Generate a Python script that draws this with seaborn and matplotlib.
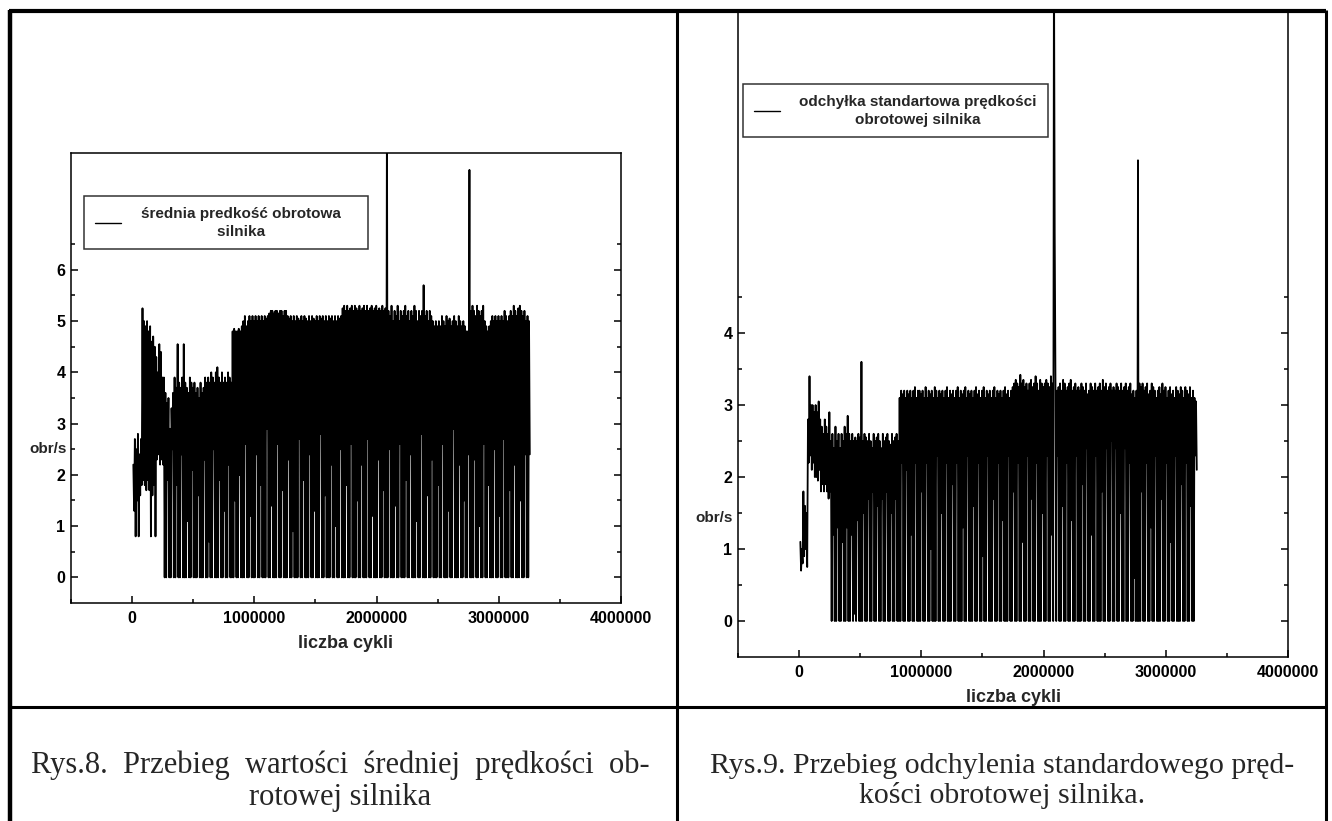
import matplotlib
matplotlib.use('Agg')
import matplotlib.pyplot as plt
import seaborn as sns
import numpy as np
import pandas as pd
from matplotlib.ticker import MultipleLocator

# -------------------------------
# DATA
# one reading every 6250 cycles, starting at 10000
# -------------------------------
first_cycle = 10000
cycle_step = 6250

mean_speed = [
    2.2, 1.3, 2.7, 0.8, 2.5, 1.5, 2.8, 0.8, 2.4, 1.6, 2.7, 1.8, 5.25, 1.9, 5.0, 1.8, 4.9, 1.7, 5.0, 1.9,
    4.8, 1.7, 4.9, 0.8, 4.6, 1.6, 4.7, 1.8, 4.5, 0.8, 4.3, 2.3, 4.0, 2.4, 4.55, 2.2, 4.4, 2.3, 3.9, 2.2,
    3.9, 0.0, 3.6, 0.0, 3.4, 1.9, 3.5, 0.0, 2.9, 0.0, 3.3, 2.5, 3.6, 0.0, 3.9, 0.0, 3.7, 1.8, 4.55, 0.0,
    3.8, 0.0, 3.7, 2.4, 3.9, 0.0, 4.55, 0.0, 3.8, 0.0, 3.7, 1.1, 3.6, 0.0, 3.9, 0.0, 3.8, 2.1, 3.7, 0.0,
    3.8, 0.0, 3.6, 0.0, 3.7, 1.6, 3.5, 0.0, 3.8, 0.0, 3.6, 0.0, 3.7, 2.3, 3.9, 0.0, 3.8, 0.0, 3.9, 0.7,
    3.8, 0.0, 4.0, 0.0, 3.9, 2.5, 3.8, 0.0, 4.0, 0.0, 4.1, 0.0, 3.9, 1.9, 3.8, 0.0, 4.0, 0.0, 3.8, 1.3,
    3.9, 0.0, 3.8, 0.0, 4.0, 2.2, 3.9, 0.0, 3.8, 0.0, 4.8, 0.0, 4.85, 1.5, 4.8, 0.0, 4.8, 0.0, 4.85, 2.0,
    4.8, 0.0, 4.9, 0.0, 5.0, 0.0, 5.1, 2.6, 4.9, 0.0, 5.0, 0.0, 5.1, 1.2, 5.0, 0.0, 5.1, 0.0, 5.0, 0.0,
    5.1, 2.4, 5.0, 0.0, 5.1, 0.0, 5.0, 1.8, 5.1, 0.0, 5.0, 0.0, 5.1, 0.0, 5.05, 2.9, 5.1, 0.0, 5.15, 0.0,
    5.2, 1.4, 5.2, 0.0, 5.15, 0.0, 5.2, 0.0, 5.2, 2.6, 5.15, 0.0, 5.2, 0.0, 5.2, 1.7, 5.1, 0.0, 5.2, 0.0,
    5.2, 0.0, 5.1, 2.3, 5.05, 0.0, 5.1, 0.0, 5.0, 0.9, 5.1, 0.0, 5.0, 0.0, 5.1, 0.0, 5.05, 2.7, 5.0, 0.0,
    5.1, 0.0, 5.0, 1.9, 5.1, 0.0, 5.05, 0.0, 5.0, 0.0, 5.1, 2.4, 5.0, 0.0, 5.1, 0.0, 5.05, 1.3, 5.0, 0.0,
    5.1, 0.0, 5.0, 0.0, 5.1, 2.8, 5.05, 0.0, 5.1, 0.0, 5.0, 1.6, 5.1, 0.0, 5.0, 0.0, 5.1, 0.0, 5.05, 2.2,
    5.1, 0.0, 5.0, 0.0, 5.1, 1.0, 5.0, 0.0, 5.1, 0.0, 5.05, 2.5, 5.1, 0.0, 5.25, 0.0, 5.3, 0.0, 5.2, 1.8,
    5.3, 0.0, 5.2, 0.0, 5.25, 2.6, 5.3, 0.0, 5.2, 0.0, 5.3, 0.0, 5.25, 1.5, 5.2, 0.0, 5.3, 0.0, 5.2, 2.2,
    5.25, 0.0, 5.3, 0.0, 5.2, 0.0, 5.3, 2.7, 5.2, 0.0, 5.25, 0.0, 5.3, 1.2, 5.2, 0.0, 5.25, 0.0, 5.3, 0.0,
    5.2, 2.3, 5.25, 0.0, 5.2, 0.0, 5.3, 1.7, 5.2, 0.0, 5.25, 0.0, 9.5, 0.0, 5.2, 2.5, 5.1, 0.0, 5.3, 0.0,
    5.0, 0.0, 5.2, 1.4, 5.1, 0.0, 5.3, 0.0, 5.0, 2.6, 5.2, 0.0, 5.1, 0.0, 5.2, 0.0, 5.3, 1.9, 5.1, 0.0,
    5.2, 0.0, 5.0, 2.4, 5.2, 0.0, 5.1, 0.0, 5.3, 0.0, 5.2, 1.1, 5.0, 0.0, 5.2, 0.0, 5.1, 2.8, 5.2, 0.0,
    5.7, 0.0, 5.1, 0.0, 5.2, 1.6, 5.0, 0.0, 5.2, 0.0, 5.1, 2.3, 5.0, 0.0, 4.9, 0.0, 5.0, 0.0, 4.9, 1.8,
    5.0, 0.0, 4.9, 0.0, 5.1, 2.6, 5.0, 0.0, 4.9, 0.0, 5.1, 0.0, 5.0, 1.3, 5.05, 0.0, 4.9, 0.0, 5.0, 2.9,
    5.1, 0.0, 5.0, 0.0, 4.9, 0.0, 5.1, 2.2, 5.0, 0.0, 4.9, 0.0, 5.0, 1.5, 4.9, 0.0, 4.8, 0.0, 4.8, 2.4,
    7.95, 0.0, 5.2, 0.0, 5.3, 0.0, 5.2, 2.3, 5.1, 0.0, 5.3, 0.0, 5.2, 1.0, 5.1, 0.0, 5.2, 0.0, 5.3, 2.6,
    5.0, 0.0, 4.9, 0.0, 4.8, 1.8, 4.9, 0.0, 5.0, 0.0, 5.1, 0.0, 5.0, 2.5, 5.1, 0.0, 5.0, 0.0, 5.1, 1.2,
    5.0, 0.0, 5.1, 0.0, 5.0, 2.7, 5.2, 0.0, 5.1, 0.0, 5.0, 0.0, 5.1, 1.7, 5.2, 0.0, 5.1, 0.0, 5.3, 2.2,
    5.2, 0.0, 5.1, 0.0, 5.25, 0.0, 5.3, 1.5, 5.2, 0.0, 5.1, 0.0, 5.2, 2.4, 5.0, 0.0, 5.1, 0.0, 5.0, 2.4,
]

std_speed = [
    1.1, 0.7, 1.0, 0.8, 1.8, 0.9, 1.6, 1.0, 1.5, 0.75, 2.8, 2.2, 3.4, 2.3, 3.0, 2.1, 3.0, 2.2, 2.9, 2.0,
    3.0, 2.0, 2.9, 1.95, 3.05, 2.1, 2.8, 1.8, 2.7, 1.9, 2.6, 1.8, 2.8, 1.9, 2.7, 1.8, 2.6, 1.7, 2.9, 1.8,
    2.5, 0.0, 2.6, 1.2, 2.4, 0.0, 2.7, 0.0, 2.5, 1.3, 2.6, 0.0, 2.4, 0.0, 2.6, 1.1, 2.5, 0.0, 2.7, 0.0,
    2.6, 1.3, 2.85, 0.0, 2.6, 0.0, 2.5, 1.2, 2.6, 0.0, 2.5, 0.1, 2.55, 0.0, 2.5, 1.4, 2.6, 0.0, 2.55, 0.0,
    3.6, 0.0, 2.5, 1.5, 2.6, 0.0, 2.55, 0.0, 2.5, 1.7, 2.6, 0.0, 2.5, 0.0, 2.4, 1.8, 2.6, 0.0, 2.5, 0.0,
    2.55, 1.6, 2.6, 0.0, 2.5, 0.0, 2.4, 1.7, 2.6, 0.0, 2.5, 0.0, 2.55, 1.8, 2.6, 0.0, 2.5, 0.0, 2.45, 1.5,
    2.6, 0.0, 2.5, 0.0, 2.55, 1.7, 2.6, 0.0, 2.5, 0.0, 3.1, 0.0, 3.2, 2.2, 3.15, 0.0, 3.2, 0.0, 3.1, 2.1,
    3.2, 0.0, 3.15, 0.0, 3.2, 1.2, 3.1, 0.0, 3.2, 0.0, 3.25, 2.2, 3.1, 0.0, 3.2, 0.0, 3.2, 0.0, 3.15, 1.8,
    3.2, 0.0, 3.1, 0.0, 3.25, 2.2, 3.1, 0.0, 3.2, 0.0, 3.15, 1.0, 3.2, 0.0, 3.1, 0.0, 3.25, 0.0, 3.2, 2.3,
    3.1, 0.0, 3.2, 0.0, 3.15, 1.5, 3.2, 0.0, 3.1, 0.0, 3.2, 2.2, 3.25, 0.0, 3.1, 0.0, 3.2, 0.0, 3.15, 1.9,
    3.2, 0.0, 3.1, 0.0, 3.2, 2.2, 3.25, 0.0, 3.1, 0.0, 3.2, 0.0, 3.15, 1.3, 3.2, 0.0, 3.25, 0.0, 3.1, 2.3,
    3.2, 0.0, 3.15, 0.0, 3.2, 0.0, 3.1, 1.6, 3.2, 0.0, 3.25, 0.0, 3.15, 2.2, 3.2, 0.0, 3.1, 0.0, 3.2, 0.9,
    3.25, 0.0, 3.1, 0.0, 3.2, 2.3, 3.15, 0.0, 3.2, 0.0, 3.1, 0.0, 3.2, 1.7, 3.25, 0.0, 3.1, 0.0, 3.2, 2.2,
    3.15, 0.0, 3.2, 0.0, 3.1, 1.4, 3.2, 0.0, 3.25, 0.0, 3.15, 0.0, 3.2, 2.3, 3.1, 0.0, 3.2, 0.0, 3.25, 1.8,
    3.3, 0.0, 3.35, 0.0, 3.3, 2.2, 3.25, 0.0, 3.42, 0.0, 3.3, 1.1, 3.35, 0.0, 3.25, 0.0, 3.3, 2.3, 3.2, 0.0,
    3.3, 0.0, 3.35, 1.7, 3.25, 0.0, 3.3, 0.0, 3.4, 2.2, 3.3, 0.0, 3.2, 0.0, 3.35, 0.0, 3.3, 1.5, 3.25, 0.0,
    3.3, 0.0, 3.35, 2.3, 3.3, 0.0, 3.25, 0.0, 3.4, 1.2, 3.3, 0.0, 9.5, 5.4, 3.3, 0.0, 3.2, 2.3, 3.25, 0.0,
    3.3, 0.0, 3.2, 1.6, 3.35, 0.0, 3.3, 0.0, 3.2, 2.2, 3.25, 0.0, 3.3, 0.0, 3.35, 1.4, 3.2, 0.0, 3.25, 0.0,
    3.3, 2.3, 3.2, 0.0, 3.25, 0.0, 3.2, 0.0, 3.3, 1.9, 3.25, 0.0, 3.2, 0.0, 3.3, 2.4, 3.15, 0.0, 3.2, 0.0,
    3.3, 1.2, 3.25, 0.0, 3.2, 0.0, 3.3, 2.3, 3.2, 0.0, 3.25, 0.0, 3.3, 0.0, 3.2, 1.8, 3.35, 0.0, 3.25, 0.0,
    3.3, 2.4, 3.2, 0.0, 3.25, 0.0, 3.3, 2.5, 3.2, 0.0, 3.25, 0.0, 3.2, 2.4, 3.3, 0.0, 3.25, 0.0, 3.2, 1.5,
    3.3, 0.0, 3.2, 0.0, 3.25, 2.4, 3.3, 0.0, 3.2, 0.0, 3.25, 2.2, 3.3, 0.0, 3.15, 0.0, 3.2, 0.6, 3.1, 0.0,
    3.2, 0.0, 6.4, 0.0, 3.3, 0.0, 3.25, 1.8, 3.3, 0.0, 3.2, 0.0, 3.25, 2.2, 3.3, 0.0, 3.15, 0.0, 3.2, 1.3,
    3.3, 0.0, 3.25, 0.0, 3.2, 2.3, 3.1, 0.0, 3.2, 0.0, 3.25, 0.0, 3.15, 1.7, 3.3, 0.0, 3.2, 0.0, 3.25, 2.2,
    3.1, 0.0, 3.2, 0.0, 3.25, 1.1, 3.15, 0.0, 3.2, 0.0, 3.1, 2.3, 3.25, 0.0, 3.2, 0.0, 3.15, 0.0, 3.25, 1.9,
    3.2, 0.0, 3.1, 0.0, 3.25, 2.2, 3.2, 0.0, 3.15, 0.0, 3.25, 1.6, 3.1, 0.0, 3.2, 0.0, 3.1, 2.3, 3.05, 2.1,
]

x_ticks = [0, 1000000, 2000000, 3000000, 4000000]
x_tick_labels = ['0', '1000000', '2000000', '3000000', '4000000']
mean_y_ticks = [0, 1, 2, 3, 4, 5, 6]
std_y_ticks = [0, 1, 2, 3, 4]

# trailing spaces only pad the legend box on the right, as in the scan
mean_label = 'średnia predkość obrotowa' + ' ' * 4 + '\nsilnika' + ' ' * 4
std_label = 'odchyłka standartowa prędkości\nobrotowej silnika'
caption_left = 'Rys.8.  Przebieg  wartości  średniej  prędkości  ob-\nrotowej silnika'
caption_right = 'Rys.9. Przebieg odchylenia standardowego pręd-\nkości obrotowej silnika.'

cycles = first_cycle + cycle_step * np.arange(len(mean_speed))
df = pd.DataFrame({'cycles': cycles, 'mean_speed': mean_speed, 'std_speed': std_speed})

# -------------------------------
# FIGURE
# -------------------------------
sns.set_style('ticks')
plt.rcParams['font.family'] = ['Liberation Sans Narrow', 'Liberation Sans', 'DejaVu Sans']
plt.rcParams['axes.linewidth'] = 1.1

W, H = 1332, 821
fig = plt.figure(figsize=(W / 100, H / 100), dpi=100)


def px_axes(left, top, right, bottom):
    return fig.add_axes([left / W, 1 - bottom / H, (right - left) / W, (bottom - top) / H])


ax1 = px_axes(71, 153, 621, 603)
ax2 = px_axes(738, 12, 1288, 657)

sns.lineplot(data=df, x='cycles', y='mean_speed', ax=ax1, color='black',
             linewidth=1.3, estimator=None, sort=False, label=mean_label)
sns.lineplot(data=df, x='cycles', y='std_speed', ax=ax2, color='black',
             linewidth=1.3, estimator=None, sort=False, label=std_label)


def style_axes(ax, yticks, ylim, ylab_pos, leg_pos):
    ax.set_xlim(-500000, 4000000)
    ax.set_ylim(*ylim)
    ax.set_xticks(x_ticks)
    ax.set_xticklabels(x_tick_labels)
    ax.xaxis.set_minor_locator(MultipleLocator(500000))
    ax.set_yticks(yticks)
    ax.set_yticks([t + 0.5 for t in yticks], minor=True)
    ax.tick_params(which='both', direction='in', top=False, right=True,
                   width=1.1, colors='black')
    ax.tick_params(which='major', length=5, labelsize=11.5)
    ax.tick_params(which='minor', length=3)
    ax.tick_params(axis='x', pad=6)
    ax.tick_params(axis='y', pad=4)
    for t in ax.get_xticklabels() + ax.get_yticklabels():
        t.set_fontweight('bold')
    for s in ax.spines.values():
        s.set_color('black')
    ax.set_xlabel('liczba cykli', fontsize=13, fontweight='bold', labelpad=6)
    ax.set_ylabel('obr/s', fontsize=11, fontweight='bold', rotation=0,
                  ha='center', va='center')
    ax.yaxis.set_label_coords(*ylab_pos)
    leg = ax.legend(loc='upper left', bbox_to_anchor=leg_pos, frameon=True,
                    fancybox=False, shadow=False, handlelength=1.7,
                    borderpad=0.7, handletextpad=1.3, borderaxespad=0,
                    prop={'weight': 'bold', 'size': 11})
    leg.get_frame().set_edgecolor('black')
    leg.get_frame().set_linewidth(1.1)
    leg.get_lines()[0].set_linewidth(1.0)
    for t in leg.get_texts():
        t.set_multialignment('center')
        t.set_linespacing(1.35)


style_axes(ax1, mean_y_ticks, (-0.5, 8.28), (-0.042, 0.342), (0.024, 0.904))
style_axes(ax2, std_y_ticks, (-0.5, 8.46), (-0.044, 0.2155), (0.009, 0.888))
ax2.spines['top'].set_visible(False)

# -------------------------------
# TABLE FRAME AND CAPTIONS
# -------------------------------
frame = fig.add_axes([0, 0, 1, 1], zorder=10)
frame.set_xlim(0, W)
frame.set_ylim(H, 0)
frame.axis('off')
frame.patch.set_alpha(0)
frame.plot([9, 1326], [11.5, 11.5], color='black', lw=3.0, solid_capstyle='butt')
frame.plot([9.5, 9.5], [10, H], color='black', lw=3.2, solid_capstyle='butt')
frame.plot([677, 677], [10, H], color='black', lw=2.2, solid_capstyle='butt')
frame.plot([1326, 1326], [10, H], color='black', lw=2.2, solid_capstyle='butt')
frame.plot([9, 1326], [707, 707], color='black', lw=2.2, solid_capstyle='butt')

fig.text(340 / W, 1 - 781 / H, caption_left, ha='center', va='center',
         family=['Liberation Serif', 'DejaVu Serif'], fontsize=22, linespacing=1.12)
fig.text(1002 / W, 1 - 781 / H, caption_right, ha='center', va='center',
         family=['Liberation Serif', 'DejaVu Serif'], fontsize=21.5, linespacing=1.12)

fig.savefig('out.png', dpi=100)
